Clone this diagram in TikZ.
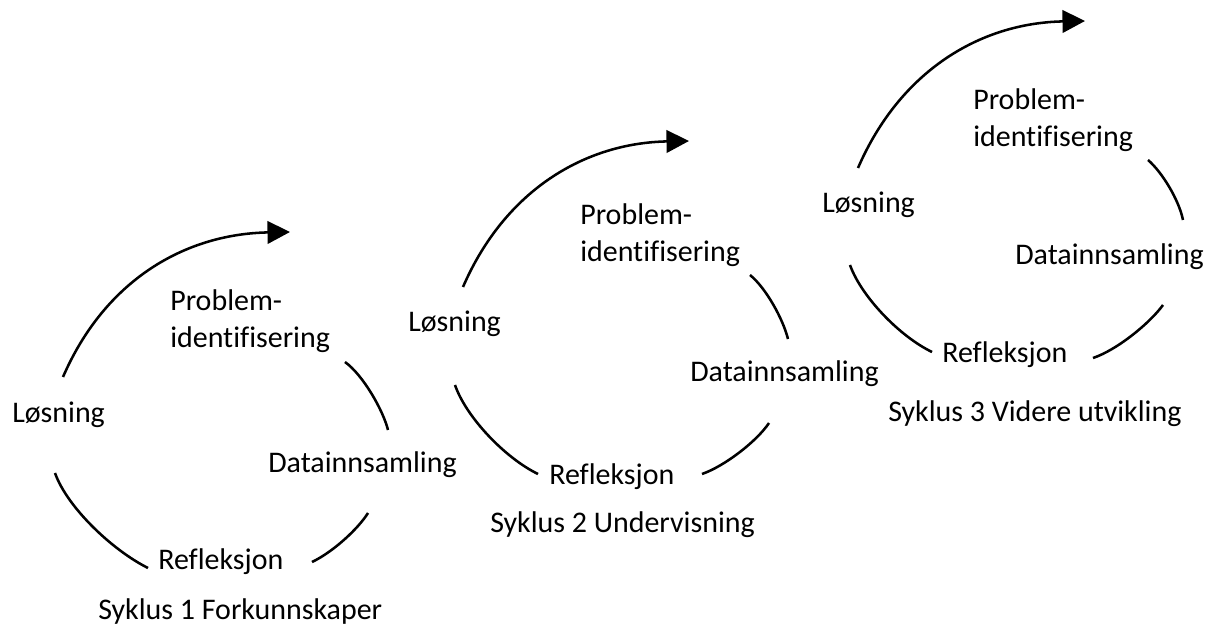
\documentclass[tikz,border=0pt]{standalone}
\usepackage{fontspec}
\setmainfont{Carlito}[Ligatures=NoCommon]
\usepackage{tikz}
\usetikzlibrary{arrows.meta}
\newcommand{\lblfont}{\fontsize{21.3pt}{27pt}\selectfont}
\tikzset{lbl/.style={inner sep=0pt, anchor=base west, align=left, font=\lblfont}}

\begin{document}
\begin{tikzpicture}[x=0.025cm, y=-0.025cm]
\tikzstyle{bue} = [line width=1.8pt]
\tikzstyle{pil} = [line width=1.8pt, -{Triangle[length=16pt,width=16pt]}]
\useasboundingbox (0,0) rectangle (1213,628);

% syklus 1
\node[lbl](prob1) at (170, 348){Problem-\\identifisering};
\node[lbl](losn1) at (12, 423){Løsning};
\node[lbl](data1) at (268, 473){Datainnsamling};
\node[lbl](refl1) at (158, 570){Refleksjon};
\node[lbl](syk1) at (98, 620){Syklus 1 Forkunnskaper};
\draw[pil] (63,377) .. controls (105,280) and (185,234) .. (290,232);
\draw[bue] (345,362) .. controls (363,375) and (383,410) .. (388,430);
\draw[bue] (368,513) .. controls (358,529) and (333,552) .. (312,562);
\draw[bue] (55,473) .. controls (67,507) and (112,550) .. (148,568);

% syklus 2
\node[lbl](prob2) at (580, 262){Problem-\\identifisering};
\node[lbl](losn2) at (408, 332){Løsning};
\node[lbl](data2) at (690, 382){Datainnsamling};
\node[lbl](refl2) at (549, 485){Refleksjon};
\node[lbl](syk2) at (490, 533){Syklus 2 Undervisning};
\begin{scope}[shift={(400,-90)}]
\draw[pil] (63,377) .. controls (105,280) and (185,233) .. (289,231);
\draw[bue] (350,365) .. controls (366,378) and (383,409) .. (388,429);
\draw[bue] (369,513) .. controls (357,531) and (325,556) .. (302,564);
\draw[bue] (55,475) .. controls (66,507) and (105,548) .. (138,564);
\end{scope}

% syklus 3
\node[lbl](prob3) at (973, 147){Problem-\\identifisering};
\node[lbl](losn3) at (822, 213){Løsning};
\node[lbl](data3) at (1015, 265){Datainnsamling};
\node[lbl](refl3) at (942, 363){Refleksjon};
\node[lbl](syk3) at (888, 422){Syklus 3 Videre utvikling};
\begin{scope}[shift={(795,-210)}]
\draw[pil] (63,378) .. controls (105,281) and (185,233) .. (290,231);
\draw[bue] (353,370) .. controls (367,382) and (384,410) .. (388,430);
\draw[bue] (368,515) .. controls (355,533) and (322,560) .. (298,568);
\draw[bue] (55,475) .. controls (66,506) and (104,546) .. (137,562);
\end{scope}

\end{tikzpicture}
\end{document}
